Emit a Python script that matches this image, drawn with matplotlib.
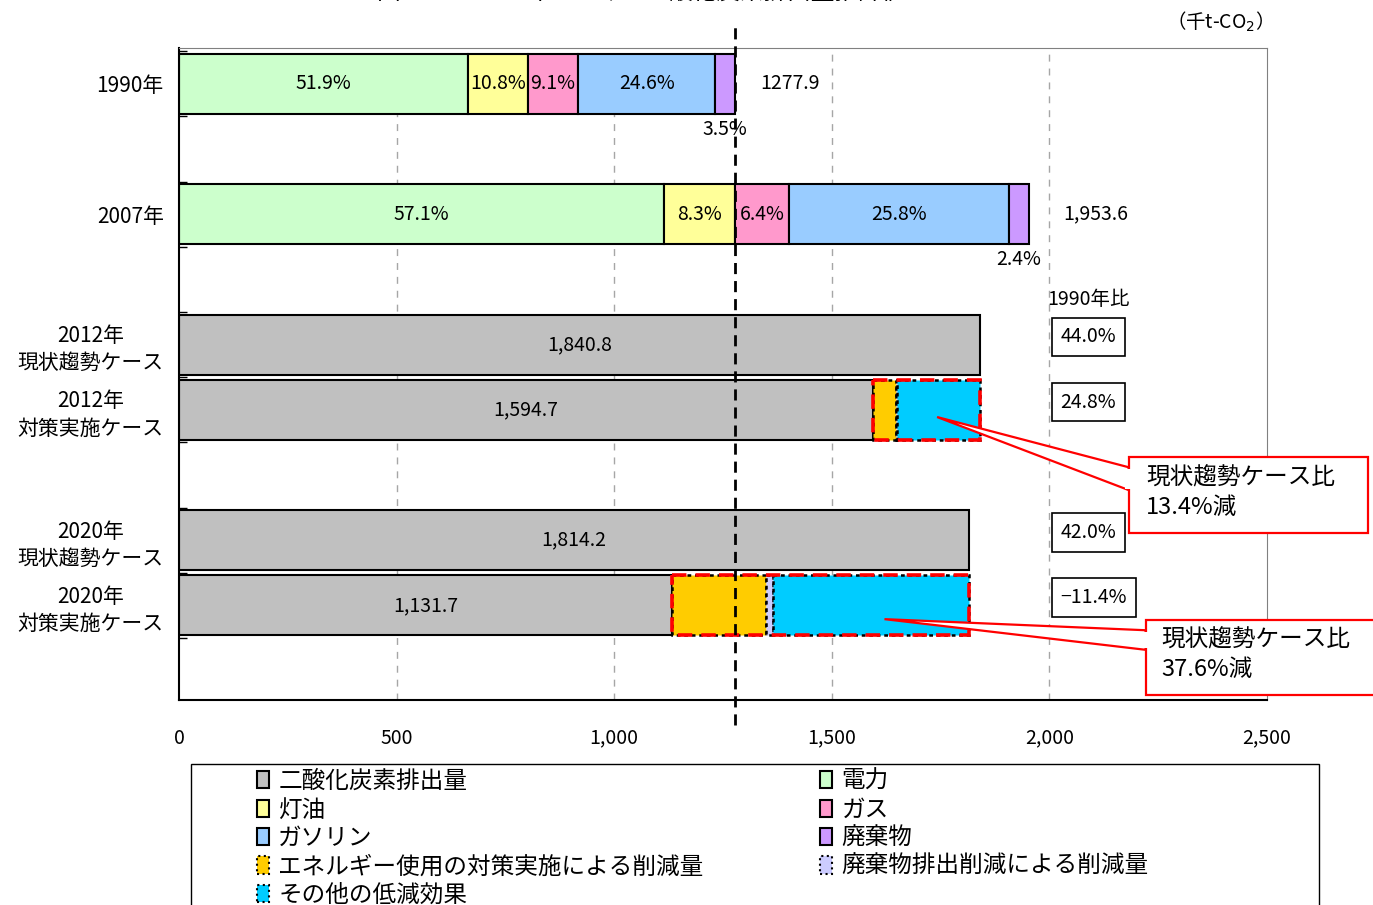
import matplotlib.pyplot as plt
from matplotlib.patches import Patch, Rectangle, Polygon

plt.rcParams['font.family'] = ['Noto Sans CJK JP', 'DejaVu Sans']

# 区分ラベル
row_labels = ['1990年', '2007年',
              '2012年\n現状趨勢ケース', '2012年\n対策実施ケース',
              '2020年\n現状趨勢ケース', '2020年\n対策実施ケース']

# 実績値（千t-CO2）と部門別構成比（%）
source_names = ['電力', '灯油', 'ガス', 'ガソリン', '廃棄物']
actual_totals = [1277.9, 1953.6]
shares_1990 = [51.9, 10.8, 9.1, 24.6, 3.5]
shares_2007 = [57.1, 8.3, 6.4, 25.8, 2.4]

# 推計値（2012年, 2020年）
trend_case = [1840.8, 1814.2]
measure_case = [1594.7, 1131.7]
cut_energy = [53.0, 218.0]
cut_waste = [2.5, 16.0]
cut_other = [190.6, 448.5]

# 色
c_co2 = '#C0C0C0'
source_colors = ['#CCFFCC', '#FFFF99', '#FF99CC', '#99CCFF', '#CC99FF']
c_energy = '#FFCC00'
c_waste = '#CCCCFF'
c_other = '#00CCFF'

ypos = [0, 2, 4, 5, 7, 8]
bh = 0.92

fig = plt.figure(figsize=(13.73, 9.05), dpi=100)
ax = fig.add_axes([179 / 1373, 1 - 700 / 905, (1267 - 179) / 1373, (700 - 48) / 905])
ax.set_xlim(0, 2500)
ax.set_ylim(9.45, -0.55)

for gx in [500, 1000, 1500, 2000]:
    ax.axvline(gx, color='#A6A6A6', lw=1, ls=(0, (5, 5)), zorder=0)

# 1990年・2007年 部門別積み上げ
for total, shares, y in zip(actual_totals, [shares_1990, shares_2007], ypos[:2]):
    left = 0
    for i, (s, col) in enumerate(zip(shares, source_colors)):
        w = total * s / 100
        ax.barh(y, w, left=left, height=bh, color=col, edgecolor='black', lw=1.5, zorder=2)
        if i < 4:
            ax.text(left + w / 2, y, f'{s:.1f}%', ha='center', va='center', fontsize=14, zorder=5)
        else:
            ax.text(left + w / 2, y + bh / 2 + 0.08, f'{s:.1f}%', ha='center', va='top', fontsize=14, zorder=5)
        left += w

ax.text(1336, ypos[0], f'{actual_totals[0]:.1f}', ha='left', va='center', fontsize=14)
ax.text(2032, ypos[1], f'{actual_totals[1]:,.1f}', ha='left', va='center', fontsize=14)

# 2012年・2020年 推計値
base = actual_totals[0]
ax.text(1995, 3.30, '1990年比', ha='left', va='center', fontsize=14)
for k in range(2):
    yt = ypos[2 + 2 * k]
    ym = ypos[3 + 2 * k]
    ax.barh(yt, trend_case[k], height=bh, color=c_co2, edgecolor='black', lw=1.5, zorder=2)
    ax.text(trend_case[k] / 2, yt, f'{trend_case[k]:,.1f}', ha='center', va='center', fontsize=14)
    ax.barh(ym, measure_case[k], height=bh, color=c_co2, edgecolor='black', lw=1.5, zorder=2)
    ax.text(measure_case[k] / 2, ym, f'{measure_case[k]:,.1f}', ha='center', va='center', fontsize=14)

    left = measure_case[k]
    for w, col in zip([cut_energy[k], cut_waste[k], cut_other[k]], [c_energy, c_waste, c_other]):
        ax.barh(ym, w, left=left, height=bh, color=col, edgecolor='black', lw=1.8,
                ls=(0, (1.5, 1.5)), zorder=2)
        left += w
    ax.add_patch(Rectangle((measure_case[k], ym - bh / 2), trend_case[k] - measure_case[k], bh,
                           fill=False, edgecolor='red', lw=2.6, ls=(0, (4, 2.5)), zorder=3))

    for y, v in [(yt, trend_case[k]), (ym, measure_case[k])]:
        r = (v / base - 1) * 100
        s = f'{r:.1f}%'.replace('-', '\u2212')
        ax.text(2025, y - 0.12, s, ha='left', va='center', fontsize=14,
                bbox=dict(boxstyle='square,pad=0.45', fc='white', ec='black', lw=1.2))

# 吹き出し（現状趨勢ケース比）
callouts = [
    dict(tip=(1742, 5.11), base=(2182, 5.88, 6.23), box=(2182, 5.72, 2733, 6.89), txt=(2222, 6.27)),
    dict(tip=(1621, 8.21), base=(2221, 8.38, 8.68), box=(2221, 8.22, 2790, 9.37), txt=(2257, 8.76)),
]
for k, c in enumerate(callouts):
    red = (trend_case[k] - measure_case[k]) / trend_case[k] * 100
    bx0, by0, bx1, by1 = c['box']
    ax.add_patch(Rectangle((bx0, by0), bx1 - bx0, by1 - by0, fc='white', ec='red', lw=1.6,
                           clip_on=False, zorder=6))
    tx, ty = c['tip']
    xb, yb0, yb1 = c['base']
    ax.add_patch(Polygon([(tx, ty), (xb, yb0), (xb, yb1)], closed=True, fc='white', ec='red',
                         lw=1.6, clip_on=False, zorder=6))
    ax.add_patch(Rectangle((xb - 8, yb0 + 0.02), 16, yb1 - yb0 - 0.04, fc='white', ec='none',
                           clip_on=False, zorder=7))
    ax.text(c['txt'][0], c['txt'][1], f'現状趨勢ケース比\n{red:.1f}%減', ha='left', va='center',
            fontsize=17, linespacing=1.35, zorder=8, clip_on=False)

# 1990年基準線
ax.plot([actual_totals[0]] * 2, [-0.038, 1.038], transform=ax.get_xaxis_transform(),
        color='black', lw=2, ls=(0, (4, 2.5)), clip_on=False, zorder=4)

ax.set_yticks(ypos)
ax.set_yticklabels(row_labels, fontsize=15, multialignment='center', linespacing=1.3)
ax.set_yticks([y + 0.5 for y in range(-1, 9)], minor=True)
ax.tick_params(axis='y', which='major', length=0, pad=11)
ax.tick_params(axis='y', which='minor', direction='in', length=6, width=1)
ax.set_xticks([0, 500, 1000, 1500, 2000, 2500])
ax.set_xticklabels(['0', '500', '1,000', '1,500', '2,000', '2,500'], fontsize=14)
ax.tick_params(axis='x', length=0, pad=20)

for side in ['top', 'right']:
    ax.spines[side].set_color('#808080')
ax.spines['left'].set_linewidth(1.5)
ax.spines['bottom'].set_linewidth(1.5)

fig.text(1215 / 1373, 1 - 22 / 905, '（千t-CO$_2$）', ha='center', va='center', fontsize=14)
fig.text(642 / 1373, 1 - 4 / 905, '図2012・2020年における二酸化炭素排出量推計値',
         ha='center', va='bottom', fontsize=17)

# 凡例
col1 = [('二酸化炭素排出量', c_co2, '-'), ('灯油', source_colors[1], '-'),
        ('ガソリン', source_colors[3], '-'),
        ('エネルギー使用の対策実施による削減量', c_energy, ':'), ('その他の低減効果', c_other, ':')]
col2 = [('電力', source_colors[0], '-'), ('ガス', source_colors[2], '-'),
        ('廃棄物', source_colors[4], '-'), ('廃棄物排出削減による削減量', c_waste, ':')]
handles = [Patch(facecolor=fc, edgecolor='black', lw=1.5, ls=ls, label=lab) for lab, fc, ls in col1 + col2]
fig.legend(handles=handles, ncol=2, loc='upper left', bbox_to_anchor=(257 / 1373, 1 - 770 / 905),
           frameon=False, fontsize=17, handlelength=0.5, handleheight=0.75, handletextpad=0.4,
           labelspacing=0.23, columnspacing=4.95, borderpad=0, borderaxespad=0)
fig.add_artist(Rectangle((191 / 1373, -0.02), (1319 - 191) / 1373, 0.02 + (905 - 764) / 905,
                         transform=fig.transFigure, fill=False, ec='black', lw=1))

fig.savefig('out.png', dpi=100)
